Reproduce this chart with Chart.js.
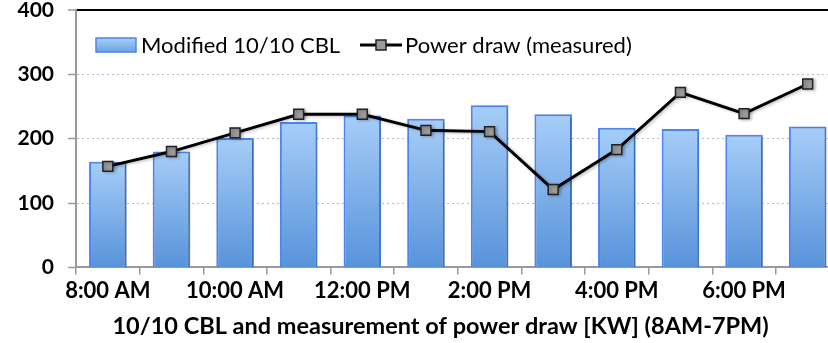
<!DOCTYPE html>
<html>
<head>
<meta charset="utf-8">
<script src="https://cdn.jsdelivr.net/npm/chart.js@4"></script>
<style>
  html, body { margin: 0; padding: 0; background: #fff; }
  #wrap { width: 828px; height: 343px; overflow: hidden; }
</style>
</head>
<body>
<!-- canvas is a bit wider than the window: the original plot is cut at the right edge -->
<div id="wrap"><canvas id="myChart" width="848" height="343"></canvas></div>
<script>
// data
const hours = ['8:00 AM', '9:00 AM', '10:00 AM', '11:00 AM', '12:00 PM', '1:00 PM',
               '2:00 PM', '3:00 PM', '4:00 PM', '5:00 PM', '6:00 PM', '7:00 PM'];
const cblValues = [164, 180, 201, 226, 236, 231, 252, 238, 217, 215, 206, 219];
const powerValues = [157, 180, 209, 238, 238, 213, 211, 121, 183, 272, 239, 285];
const yTicks = [0, 100, 200, 300, 400];

const FONT = 'Lato, "Open Sans", sans-serif';

// legend drawn inside plot area (like the original)
const innerLegend = {
    id: 'innerLegend',
    afterDraw(chart) {
        const ctx = chart.ctx;
        const barDs = chart.data.datasets.find(d => d.type === 'bar');
        const lineDs = chart.data.datasets.find(d => d.type === 'line');
        ctx.save();
        ctx.font = '22px ' + FONT;
        ctx.textBaseline = 'middle';
        // bar entry
        const g = ctx.createLinearGradient(0, 38, 0, 52);
        g.addColorStop(0, '#a8cff8');
        g.addColorStop(1, '#6aa2e2');
        ctx.fillStyle = g;
        ctx.fillRect(96, 38, 40, 14);
        ctx.strokeStyle = '#4a86f2';
        ctx.lineWidth = 1.5;
        ctx.strokeRect(96, 38, 40, 14);
        ctx.fillStyle = '#000';
        ctx.fillText(barDs.label, 141, 46);
        // line entry
        ctx.strokeStyle = '#000';
        ctx.lineWidth = 3;
        ctx.beginPath();
        ctx.moveTo(360, 45);
        ctx.lineTo(402, 45);
        ctx.stroke();
        ctx.fillStyle = '#9a9a9a';
        ctx.fillRect(376, 40, 10, 10);
        ctx.strokeStyle = '#222';
        ctx.lineWidth = 1.5;
        ctx.strokeRect(376, 40, 10, 10);
        ctx.fillStyle = '#000';
        ctx.fillText(lineDs.label, 405, 46);
        ctx.restore();
    }
};

// soft shadow under bars and markers
const shadows = {
    id: 'shadows',
    beforeDatasetDraw(chart) {
        const ctx = chart.ctx;
        ctx.save();
        ctx.shadowColor = 'rgba(0,0,0,0.25)';
        ctx.shadowBlur = 3;
        ctx.shadowOffsetX = 2;
        ctx.shadowOffsetY = 1;
    },
    afterDatasetDraw(chart) {
        chart.ctx.restore();
    }
};

function barGradient(context) {
    const chart = context.chart;
    const y = chart.scales.y;
    if (!chart.chartArea || !y) return '#86b5ec';
    const top = y.getPixelForValue(context.raw);
    const bottom = y.getPixelForValue(0);
    if (!isFinite(top) || !isFinite(bottom)) return '#86b5ec';
    const g = chart.ctx.createLinearGradient(0, top, 0, bottom);
    g.addColorStop(0, '#a6cdf8');
    g.addColorStop(1, '#5893da');
    return g;
}

// title is centred under the visible part, the canvas runs past the window
const xTitle = '10/10 CBL and measurement of power draw [KW] (8AM-7PM)';

const ctx = document.getElementById('myChart');
new Chart(ctx, {
    data: {
        labels: hours,
        datasets: [{
            type: 'line',
            label: 'Power draw (measured)',
            data: powerValues,
            borderColor: '#000',
            borderWidth: 3,
            tension: 0,
            pointStyle: 'rect',
            pointRadius: 7,
            pointBackgroundColor: '#9a9a9a',
            pointBorderColor: '#222',
            pointBorderWidth: 1.5,
            order: 1
        }, {
            type: 'bar',
            label: 'Modified 10/10 CBL',
            data: cblValues,
            backgroundColor: barGradient,
            borderColor: '#4a86f2',
            borderWidth: 2,
            categoryPercentage: 1,
            barPercentage: 0.59,
            order: 2
        }]
    },
    options: {
        responsive: false,
        animation: false,
        layout: { padding: { left: 0, right: 0, top: 10, bottom: 0 } },
        plugins: {
            legend: { display: false },
            tooltip: { enabled: false }
        },
        scales: {
            x: {
                type: 'category',
                offset: true,
                afterFit: function (scale) {
                    scale.paddingLeft = 0;
                    scale.paddingRight = 0;
                },
                grid: {
                    offset: true,
                    drawOnChartArea: false,
                    color: '#999',
                    tickLength: 7,
                    lineWidth: 1.5
                },
                border: { color: '#999', width: 2 },
                ticks: {
                    autoSkip: false,
                    maxRotation: 0,
                    color: '#000',
                    font: { family: FONT, size: 22, weight: 'bold' },
                    padding: 3,
                    callback: function (val, i) { return i % 2 === 0 ? hours[i] : ''; }
                },
                title: {
                    display: true,
                    text: xTitle + '\u00a0'.repeat(6),
                    color: '#000',
                    font: { family: FONT, size: 23.5, weight: 'bold' },
                    padding: { top: 6, bottom: 2 }
                }
            },
            y: {
                min: 0,
                max: 400,
                afterBuildTicks: function (scale) {
                    scale.ticks = yTicks.map(v => ({ value: v }));
                },
                afterFit: function (scale) {
                    scale.width = 76;
                    scale.paddingTop = 0;
                    scale.paddingBottom = 0;
                },
                grid: {
                    color: function (c) {
                        if (!c.tick) return '#999';
                        if (c.tick.value === 400) return '#000';
                        if (c.tick.value === 0) return 'rgba(0,0,0,0)';
                        return '#bbb';
                    },
                    lineWidth: function (c) {
                        return c.tick && c.tick.value === 400 ? 2 : 1;
                    },
                    tickColor: '#999',
                    tickLength: 8,
                    tickWidth: 1.5
                },
                border: {
                    color: '#999',
                    width: 2,
                    dash: function (c) {
                        if (!c.tick || c.tick.value === 400) return [];
                        return [2, 3];
                    }
                },
                ticks: {
                    color: '#000',
                    font: { family: FONT, size: 21, weight: 'bold' },
                    padding: 14
                }
            }
        }
    },
    plugins: [shadows, innerLegend]
});
</script>
</body>
</html>
